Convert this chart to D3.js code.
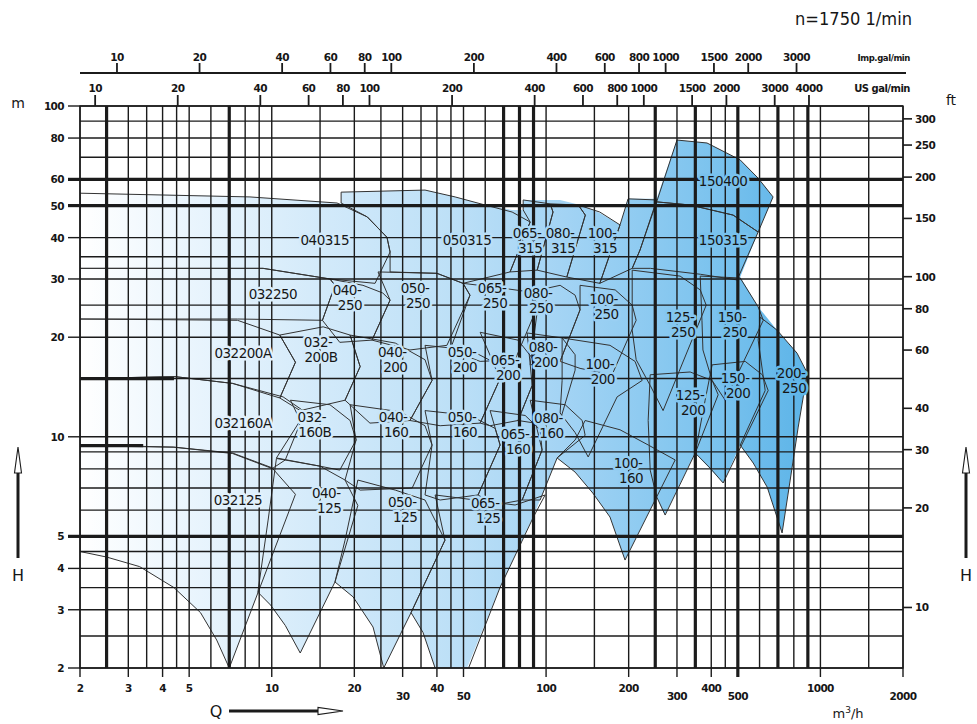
<!DOCTYPE html>
<html><head><meta charset="utf-8">
<script src="https://cdn.jsdelivr.net/npm/d3@7"></script>
<style>
body{margin:0;background:#fff}
svg text{font-family:"DejaVu Sans",sans-serif;fill:#161616}
</style></head>
<body><svg id="chart" width="977" height="724"></svg>
<script>
// ---- axes values -------------------------------------------------------
const flowTicks = [2,3,4,5,10,20,30,40,50,100,200,300,400,500,1000,2000];
const flowTicksLow = [30,50,300,500,2000];
const flowGrid = [2,2.5,3,3.5,4,4.5,5,6,7,8,9,10,15,20,25,30,35,40,45,50,60,70,80,90,100,150,200,250,300,350,400,450,500,600,700,800,900,1000,1500,2000];
const flowGridBold = [2.5,7,70,80,90,250,350,500,700,900];
const headGrid = [2,2.5,3,3.5,4,4.5,5,6,7,8,9,10,15,20,25,30,35,40,50,60,70,80,90,100];
const headGridBold = [5,50,60];
const headTicks = [2,3,4,5,10,20,30,40,50,60,80,100];
const feetTicks = [10,20,30,40,60,80,100,150,200,250,300];
const impGalTicks = [10,20,40,60,80,100,200,400,600,800,1000,1500,2000,3000];
const usGalTicks = [10,20,40,60,80,100,200,400,600,800,1000,1500,2000,3000,4000];
const M3H_PER_IMPGPM = 0.27277, M3H_PER_USGPM = 0.22712, M_PER_FT = 0.3048;

// short heavy head marks at the left edge: [head, flow from, flow to]
const headMarks = [[15,2,4.4],[9.4,2,3.4]];

// ---- covered range (Q m3/h, H m) ----------------------------------------
const coverage = [
 [2,54.5],[3.91,54.2],[8.33,53.1],[17.3,50.9],[17.9,50.9],[17.9,54.9],[36.2,55.7],[46.6,53.1],[60,50.2],[75.2,48.5],
 [82.5,48.5],[82.5,52],[112.5,52],[133,50.2],[157,47.5],[186,43.7],[199,52.4],[253,52.4],[300,78.9],[386,77.3],
 [510,68.7],[593,60.5],[672,53.1],[593,41.6],[510,30.4],[593,24.7],[695,21],[822,17.9],[894,15.6],[864,13.1],
 [829,10.7],[775,7.4],[725,5.12],[640,7.04],[569,8.33],[510,9.45],[442,7.25],[349,8.93],[271,5.8],[253,6.58],
 [194,4.24],[171,5.72],[148,6.76],[127.6,7.82],[109.7,8.63],[89.7,5.72],[68,3.51],[51.5,2],[39.4,2],[35.6,2.56],
 [32.2,2.94],[25.6,2.0],[23.4,2.66],[19.8,3.28],[17,3.64],[12.7,2.22],[11.2,2.69],[9.86,3.1],[8.91,3.39],[7,2],
 [6.32,2.43],[5.48,2.94],[4.37,3.51],[3.31,4.05],[2.51,4.33],[2,4.49]
];

// ---- individual pump sizes: outline of each operating range ---------------
const pumpOutlines = [
 [[300,78.9],[386,77.3],[510,68.7],[593,60.5],[672,53.1],[593,41.6],[480,46.8],[335,50.2],[253,51.3]],
 [[253,51.3],[335,50.2],[481,46.8],[593,41.6],[497,29.8],[365,31],[240,32.3],[206,32.3],[220,36.7]],
 [[2,54.5],[8.33,53.1],[17.3,50.9],[22.3,46.2],[26.3,40.1],[27,36.2],[23.8,29.1],[16.3,30],[9.3,32.3],[2,32.3]],
 [[17.9,54.9],[36.2,55.7],[46.6,53.1],[59.9,50.2],[75.2,47.8],[87.5,44.6],[73.9,31.5],[49.8,29.1],[40,31.2],[27,31.5],[27,36.2],[26.3,40.1],[22.3,46.2],[17.9,50.9]],
 [[82.5,52],[103.5,50.6],[106,47.8],[92.8,31.9],[73.9,31.5],[87.5,44.6],[82.5,48.5]],
 [[103.5,50.6],[131,50.2],[139,46.8],[119,30.4],[92.8,31.9],[106,47.8]],
 [[131,50.2],[157,47.8],[186,43.7],[157,29.1],[119,30.4],[139,46.8]],
 [[199,52.4],[253,52],[220,36.7],[206,32.3],[157,29.1],[186,43.7]],
 [[2,32.3],[9.3,32.3],[16.3,30],[17,28.7],[15.3,22.5],[7.5,22.7],[2,22.7]],
 [[16.3,30],[21.5,28.7],[25.4,27.2],[27,25.9],[23.2,19.6],[17.7,19.3],[15.3,22.5],[17,28.7]],
 [[24.4,31.5],[40,31.2],[49.8,29.1],[52.8,26.8],[43.5,18.9],[31.9,18.3],[23.2,19.6],[27,25.9]],
 [[49.8,29.1],[68,28.2],[87.5,27.4],[93.5,25],[77.1,17.1],[57.5,16.9],[44.7,18.3],[52.8,26.8]],
 [[87.5,27.4],[112.5,28.7],[127.6,26.8],[133,24.2],[112.5,16.9],[87.5,16.5],[93.5,25]],
 [[133,28.7],[178.6,27.8],[206,25],[213,22.5],[174,15.4],[133,16.1],[112.5,16.9],[133,24.2]],
 [[206,31.9],[308,30.6],[364.6,27.8],[383.5,25],[267,12],[239.6,14.3],[213,17.1],[206,21]],
 [[364.6,30.6],[510,30.2],[593,24.7],[619,22.5],[449.7,12.9],[403,14.8],[373,18.3],[370,22.5]],
 [[2,22.7],[7.5,22.5],[10.7,20.3],[12.2,16.8],[10.7,13.1],[7.2,14.5],[4.44,15.2],[2,15]],
 [[10.7,20.3],[15.4,21.5],[19.3,20.3],[21,16.3],[18.5,12.9],[12.7,12],[10.7,13.1],[12.2,16.8]],
 [[19.3,20.3],[28.2,19.2],[36.2,17.1],[38.4,14.8],[31.9,11.2],[22.8,11],[18.5,12.9],[21,16.3]],
 [[36.2,18.9],[52.8,18.3],[63.6,16.9],[68,15],[57.5,11],[41.1,10.8],[31.9,11.2],[38.4,14.8]],
 [[57.5,20.7],[79,19.6],[90,17.1],[89,14.3],[79,11.2],[62.5,10.8],[57.5,11],[68,15]],
 [[85.3,20.6],[114.4,19.9],[127.6,17.7],[127.6,15.9],[112.5,11.2],[91.2,11],[79,11.2],[89,14.3]],
 [[114.4,19.9],[171,18.9],[211,16.9],[224,14.8],[181.5,13.2],[142.4,8.69],[127.6,10.3],[112.5,11.8],[114.4,14.8]],
 [[239.6,15.4],[335,15.7],[403,14.8],[424,13.4],[349.6,8.93],[271.7,5.8],[253,6.58],[239.6,7.93],[235.6,11.2]],
 [[403,16.5],[532,16.9],[614,15.4],[645,13.8],[442,7.25],[396.5,8.04],[349.6,8.93],[380,12.9]],
 [[603,23],[695,21],[822,17.9],[895,15.6],[866,13.2],[830,10.7],[776,7.4],[725,5.12],[640,7.04],[569,8.33],[510,9.44],[629,13.8],[593,19.6]],
 [[2,15],[4.44,15.2],[7.2,14.5],[11,13.2],[13.2,11.9],[11.2,8.51],[10.1,8.04],[7.2,8.93],[4.37,9.31],[2,9.44]],
 [[11.7,12.9],[16.3,12.5],[19.3,11.2],[20.3,9.78],[17.7,7.93],[15,8.15],[10.4,8.63],[12.7,11.2]],
 [[19.3,12.5],[29.4,11.9],[36.2,10.8],[38.4,9.44],[32.5,7.0],[21,6.9],[18.5,7.4],[20.3,9.78]],
 [[36.2,12],[52.8,11.6],[65.2,10.6],[68,9.44],[56.5,6.67],[41.1,6.44],[36.2,6.67],[38.4,9.44]],
 [[62.5,12],[83.9,11.6],[95.1,10.5],[96.7,9.12],[81.8,6.44],[65.2,6.22],[56.5,6.67],[68,9.44]],
 [[87.5,12.9],[117.4,12.5],[135.4,11.2],[138.8,10.1],[109.7,8.63],[95.1,6.44],[81.8,6.44],[96.7,9.12]],
 [[138.8,11.2],[186,10.5],[236,9.44],[295.5,8.51],[253,6.58],[194,4.24],[171,5.72],[148,6.76],[127.6,7.82],[109.7,8.63],[127.6,9.78]],
 [[2,9.4],[4.4,9.3],[7.2,8.9],[10.1,8.0],[12.2,6.7],[7.0,2.0],[6.3,2.43],[5.5,2.94],[4.4,3.5],[3.3,4.05],[2.5,4.33],[2,4.5]],
 [[10.4,8.6],[15,8.15],[18.5,7.4],[20.6,6.2],[17,3.64],[12.7,2.22],[11.2,2.69],[9.9,3.1],[8.9,3.39],[9.7,5.6]],
 [[20.6,7.4],[28.2,6.9],[36.2,6.44],[42.8,4.87],[32.2,2.94],[25.6,2.0],[23.4,2.66],[19.8,3.28],[17,3.64],[18.5,4.87]],
 [[39.4,6.67],[55.1,6.44],[77.1,6.22],[99.2,6.67],[89.9,5.72],[68,3.51],[48.6,1.72],[41.1,1.72],[39.4,2],[35.6,2.56],[32.2,2.94],[42.8,4.87]]
];

// ---- size designations and where they are written ----------------------
const pumpLabels = ["150400","150315","040315","050315","065-\n315","080-\n315","100-\n315",
 "032250","040-\n250","050-\n250","065-\n250","080-\n250","100-\n250","125-\n250","150-\n250",
 "032200A","032-\n200B","040-\n200","050-\n200","065-\n200","080-\n200","100-\n200","125-\n200","150-\n200","200-\n250",
 "032160A","032-\n160B","040-\n160","050-\n160","065-\n160","080-\n160","100-\n160",
 "032125","040-\n125","050-\n125","065-\n125"];
const labelFlow = [442,442,15.6,51.5,85.3,112.5,160,
 10.1,18.8,33.3,63.6,93.5,162,308,476,
 7.86,14.75,27.5,49.4,70.9,97.5,157,335,489,782,
 7.86,14.0,27.7,49.4,77.1,102,199,
 7.53,15.8,29.9,60];
const labelHead = [59.5,39.3,39.3,39.3,39.3,39.3,39.3,
 27.0,26.3,26.8,26.8,25.9,24.7,21.9,21.9,
 17.9,18.4,17.1,17.1,16.2,17.7,15.7,12.7,14.3,14.8,
 11.0,10.9,10.9,10.9,9.71,10.8,7.93,
 6.44,6.44,6.01,5.97];

// ---- drawing ------------------------------------------------------------
(function draw(){
const svg = d3.select('#chart');
const pL = 80, pR = 903, pT = 106, pB = 668;
const x = d3.scaleLog().domain([2,2000]).range([pL,pR]);
const y = d3.scaleLog().domain([2,100]).range([pB,pT]);

const ramp = d3.scaleLinear()
  .domain([2,5,15,45,120,400,900].map(v=>x(v)))
  .range(['#ffffff','#eaf5fd','#d3eafa','#bde0f7','#a2d3f4','#7cc3ee','#5cb4e8'])
  .clamp(true);

const defs = svg.append('defs');
const grad = defs.append('linearGradient').attr('id','fillRamp')
  .attr('gradientUnits','userSpaceOnUse')
  .attr('x1',pL).attr('x2',pR).attr('y1',0).attr('y2',0);
ramp.domain().forEach((px,i)=>{
  grad.append('stop').attr('offset',(px-pL)/(pR-pL)).attr('stop-color',ramp.range()[i]);
});
defs.append('clipPath').attr('id','plotClip').append('rect')
  .attr('x',pL).attr('y',pT).attr('width',pR-pL).attr('height',pB-pT);

const line = d3.line().x(d=>x(d[0])).y(d=>y(d[1])).curve(d3.curveLinearClosed);
const plot = svg.append('g').attr('clip-path','url(#plotClip)');

plot.append('path').attr('d',line(coverage)).attr('fill','url(#fillRamp)').attr('stroke','none');

// grid
const grid = svg.append('g');
grid.selectAll('.vg').data(flowGrid).join('line')
  .attr('x1',d=>x(d)).attr('x2',d=>x(d)).attr('y1',pT)
  .attr('y2',d=>flowTicks.includes(d)?pB+9:pB)
  .attr('stroke','#1b1b1b').attr('stroke-width',d=>flowGridBold.includes(d)?3.2:1.4);
grid.selectAll('.hg').data(headGrid).join('line')
  .attr('x1',pL).attr('x2',pR).attr('y1',d=>y(d)).attr('y2',d=>y(d))
  .attr('stroke','#1b1b1b').attr('stroke-width',d=>headGridBold.includes(d)?3.2:1.4);
grid.selectAll('.hm').data(headMarks).join('line')
  .attr('x1',d=>x(d[1])).attr('x2',d=>x(d[2])).attr('y1',d=>y(d[0])).attr('y2',d=>y(d[0]))
  .attr('stroke','#1b1b1b').attr('stroke-width',3.2);

// operating range outlines
plot.append('g').selectAll('path').data(pumpOutlines).join('path')
  .attr('d',d=>line(d)).attr('fill','none').attr('stroke','#333').attr('stroke-width',1)
  .attr('stroke-linejoin','round');

// size labels
const lab = svg.append('g');
pumpLabels.forEach((t,i)=>{
  const px = x(labelFlow[i]), py = y(labelHead[i]);
  const rows = t.split('\n');
  const txt = lab.append('text').attr('text-anchor','middle')
    .attr('font-size',13.5).attr('letter-spacing',-0.5)
    .attr('paint-order','stroke').attr('stroke',ramp(px)).attr('stroke-width',5)
    .attr('stroke-linejoin','round');
  rows.forEach((r,k)=>{
    txt.append('tspan').attr('x',px + (rows.length>1 && k===1 ? 3 : 0))
      .attr('y',py + (rows.length===1 ? 5 : (k===0 ? -2.5 : 12.5))).text(r);
  });
});

// left head axis
const fs = 10.5;
const la = svg.append('g');
la.selectAll('line').data(headTicks).join('line')
  .attr('x1',68).attr('x2',pL).attr('y1',d=>y(d)).attr('y2',d=>y(d))
  .attr('stroke','#1b1b1b').attr('stroke-width',d=>headGridBold.includes(d)?3.2:1.4);
la.selectAll('text').data(headTicks).join('text')
  .attr('x',64).attr('y',d=>y(d)+4).attr('text-anchor','end')
  .attr('font-size',fs).attr('font-weight','bold').attr('letter-spacing',-0.6)
  .text(d=>d);
svg.append('text').attr('x',18).attr('y',108).attr('text-anchor','middle').attr('font-size',14).text('m');

// right feet axis
const ra = svg.append('g');
ra.selectAll('line').data(feetTicks).join('line')
  .attr('x1',pR).attr('x2',912).attr('y1',d=>y(d*M_PER_FT)).attr('y2',d=>y(d*M_PER_FT))
  .attr('stroke','#1b1b1b').attr('stroke-width',1.6);
ra.selectAll('text').data(feetTicks).join('text')
  .attr('x',915).attr('y',d=>y(d*M_PER_FT)+4)
  .attr('font-size',fs).attr('font-weight','bold').attr('letter-spacing',-0.6)
  .text(d=>d);
svg.append('text').attr('x',951).attr('y',105).attr('text-anchor','middle').attr('font-size',14).text('ft');

// bottom flow axis
svg.append('g').selectAll('text').data(flowTicks).join('text')
  .attr('x',d=>x(d)).attr('y',d=>flowTicksLow.includes(d)?700:692).attr('text-anchor','middle')
  .attr('font-size',fs).attr('font-weight','bold').attr('letter-spacing',-0.6)
  .text(d=>d);
svg.append('text').attr('x',848).attr('y',718).attr('text-anchor','middle').attr('font-size',13)
  .html('m<tspan dy="-5" font-size="9">3</tspan><tspan dy="5">/h</tspan>');

// top: imperial and US gallons per minute
const topLineY = 73;
svg.append('line').attr('x1',pL).attr('x2',906).attr('y1',topLineY).attr('y2',topLineY)
  .attr('stroke','#1b1b1b').attr('stroke-width',2.2);
const ia = svg.append('g');
ia.selectAll('line').data(impGalTicks).join('line')
  .attr('x1',d=>x(d*M3H_PER_IMPGPM)).attr('x2',d=>x(d*M3H_PER_IMPGPM))
  .attr('y1',topLineY).attr('y2',topLineY-10).attr('stroke','#1b1b1b').attr('stroke-width',1.8);
ia.selectAll('text').data(impGalTicks).join('text')
  .attr('x',d=>x(d*M3H_PER_IMPGPM)).attr('y',61).attr('text-anchor','middle')
  .attr('font-size',fs).attr('font-weight','bold').attr('letter-spacing',-0.6)
  .text(d=>d);
svg.append('text').attr('x',910).attr('y',61).attr('text-anchor','end')
  .attr('font-size',8.5).attr('font-weight','bold').attr('letter-spacing',-0.4).text('Imp.gal/min');
const ua = svg.append('g');
ua.selectAll('line').data(usGalTicks).join('line')
  .attr('x1',d=>x(d*M3H_PER_USGPM)).attr('x2',d=>x(d*M3H_PER_USGPM))
  .attr('y1',pT).attr('y2',pT-11).attr('stroke','#1b1b1b').attr('stroke-width',1.8);
ua.selectAll('text').data(usGalTicks).join('text')
  .attr('x',d=>x(d*M3H_PER_USGPM)).attr('y',92).attr('text-anchor','middle')
  .attr('font-size',fs).attr('font-weight','bold').attr('letter-spacing',-0.6)
  .text(d=>d);
svg.append('text').attr('x',910).attr('y',92).attr('text-anchor','end')
  .attr('font-size',10).attr('font-weight','bold').attr('letter-spacing',-0.5).text('US gal/min');

svg.append('text').attr('x',795).attr('y',25).attr('font-size',17)
  .attr('textLength',117).attr('lengthAdjust','spacingAndGlyphs').text('n=1750  1/min');

// plot frame
svg.append('rect').attr('x',pL).attr('y',pT).attr('width',pR-pL).attr('height',pB-pT)
  .attr('fill','none').attr('stroke','#1b1b1b').attr('stroke-width',1.4);

// H arrows on both sides, Q arrow below
function arrowUp(cx){
  svg.append('line').attr('x1',cx).attr('x2',cx).attr('y1',558).attr('y2',472)
    .attr('stroke','#1b1b1b').attr('stroke-width',3);
  svg.append('path').attr('d',`M${cx},447 L${cx-3.5},473 L${cx+3.5},473 Z`)
    .attr('fill','#fff').attr('stroke','#1b1b1b').attr('stroke-width',1.1);
  svg.append('text').attr('x',cx).attr('y',581).attr('text-anchor','middle').attr('font-size',16).text('H');
}
arrowUp(18); arrowUp(966);
svg.append('line').attr('x1',229).attr('x2',319).attr('y1',711).attr('y2',711)
  .attr('stroke','#1b1b1b').attr('stroke-width',3);
svg.append('path').attr('d','M343,711 L318,707.5 L318,714.5 Z')
  .attr('fill','#fff').attr('stroke','#1b1b1b').attr('stroke-width',1.1);
svg.append('text').attr('x',216).attr('y',717).attr('text-anchor','middle').attr('font-size',16).text('Q');
})();
</script></body></html>
